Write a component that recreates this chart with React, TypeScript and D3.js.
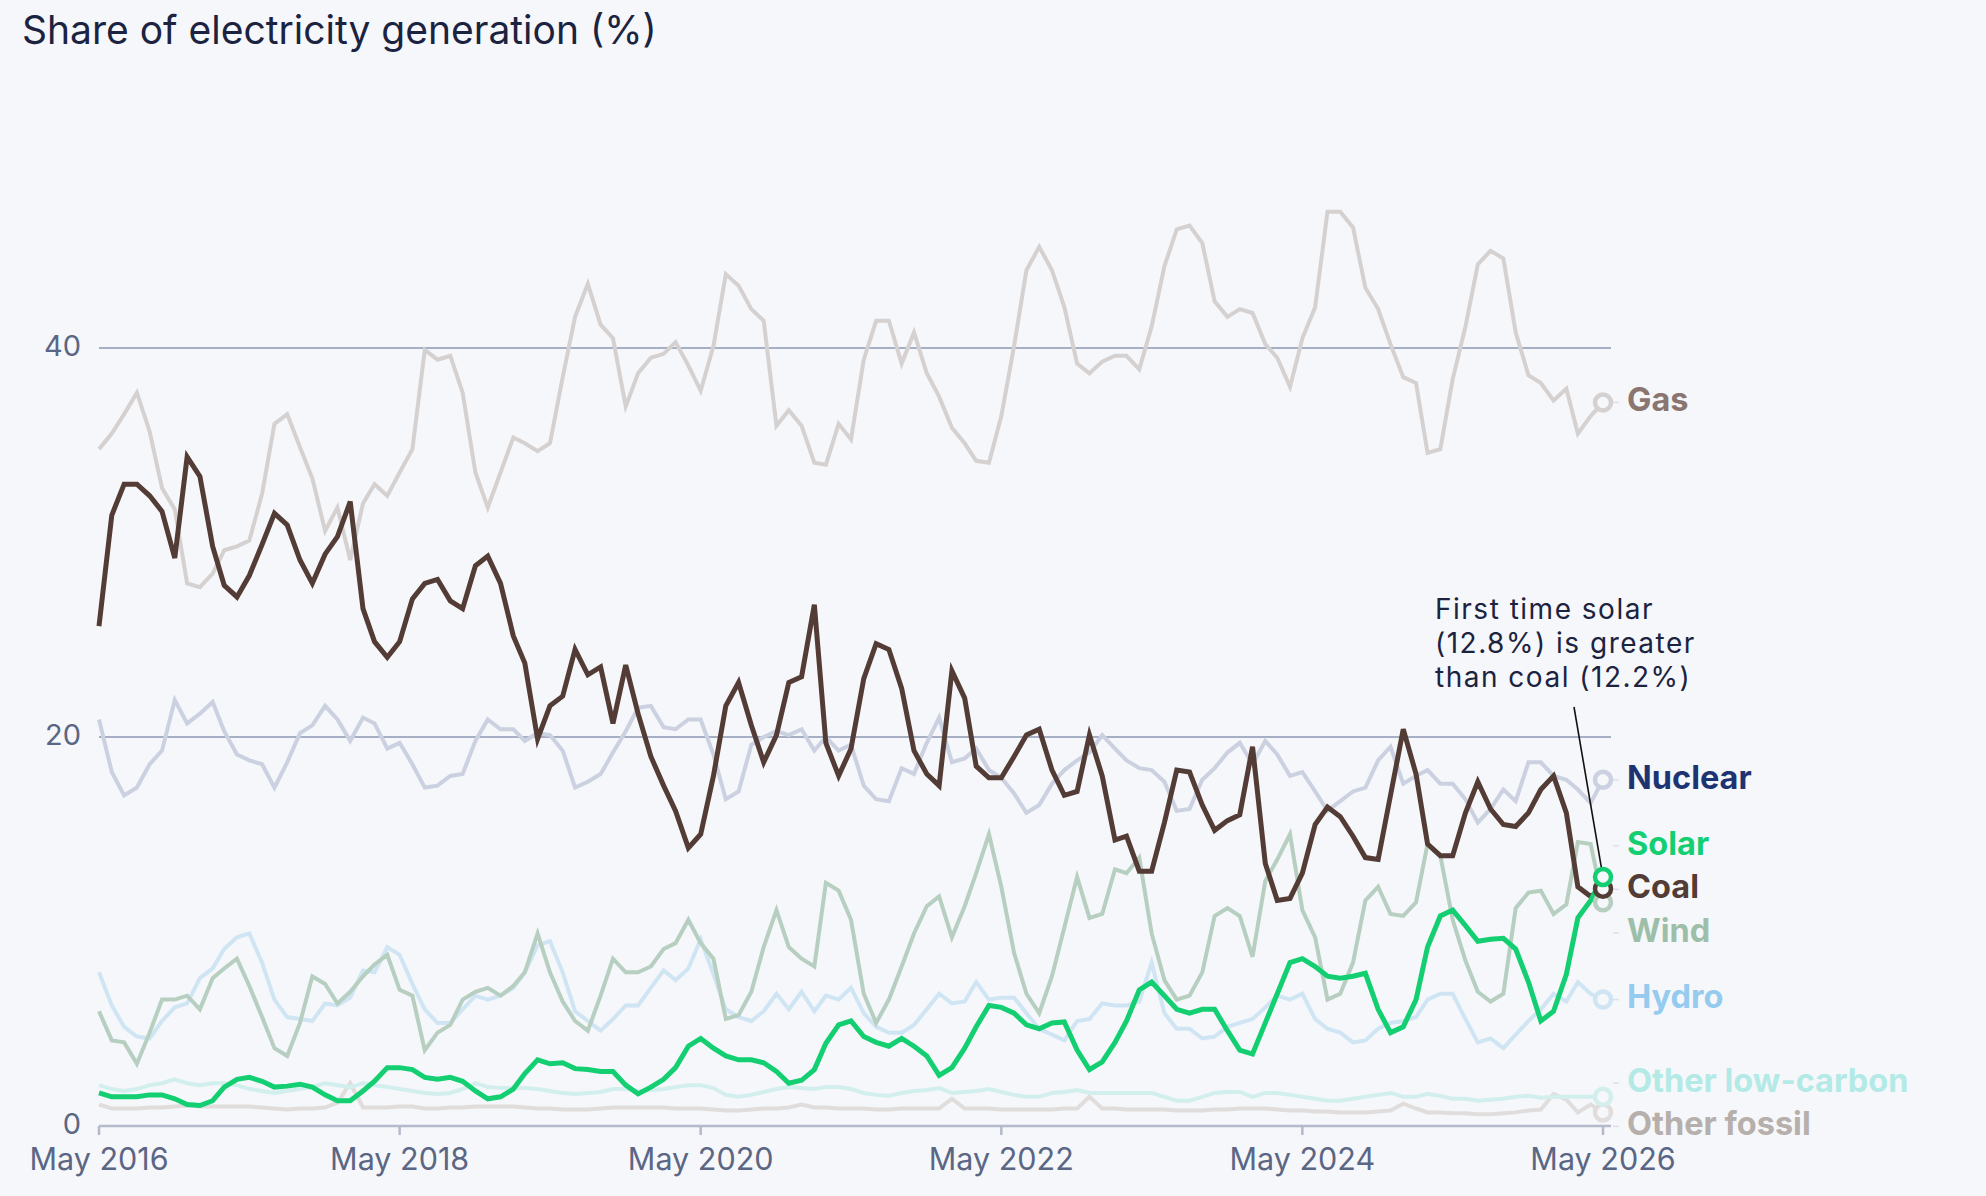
import React from "react";
import * as d3 from "d3";

// monthly shares (%), May 2016 -> May 2026
const months = d3.timeMonth.range(new Date(2016, 4, 1), new Date(2026, 5, 1));

const gas = [
  34.8, 35.6, 36.6, 37.7, 35.7, 32.8, 31.7, 27.9, 27.7, 28.4,
  29.6, 29.8, 30.1, 32.5, 36.1, 36.6, 34.9, 33.3, 30.6, 31.8,
  29.1, 32.0, 33.0, 32.4, 33.6, 34.8, 39.9, 39.4, 39.6, 37.7,
  33.6, 31.8, 33.6, 35.4, 35.1, 34.7, 35.1, 38.5, 41.6, 43.3,
  41.2, 40.5, 37.0, 38.7, 39.5, 39.7, 40.3, 39.1, 37.8, 40.1,
  43.8, 43.2, 42.0, 41.4, 36.0, 36.8, 36.0, 34.1, 34.0, 36.1,
  35.3, 39.4, 41.4, 41.4, 39.2, 40.8, 38.7, 37.5, 35.9, 35.1,
  34.2, 34.1, 36.5, 40.1, 44.0, 45.2, 44.0, 42.1, 39.2, 38.7,
  39.3, 39.6, 39.6, 38.9, 41.1, 44.2, 46.1, 46.3, 45.4, 42.4,
  41.6, 42.0, 41.8, 40.2, 39.5, 38.0, 40.5, 42.1, 47.0, 47.0,
  46.2, 43.1, 42.0, 40.2, 38.5, 38.2, 34.6, 34.8, 38.4, 41.1,
  44.3, 45.0, 44.6, 40.8, 38.6, 38.2, 37.3, 37.9, 35.6, 36.5,
  37.2,
];

const coal = [
  25.7, 31.4, 33.0, 33.0, 32.4, 31.6, 29.2, 34.4, 33.4, 29.8,
  27.8, 27.2, 28.3, 29.9, 31.5, 30.9, 29.1, 27.9, 29.4, 30.3,
  32.1, 26.6, 24.9, 24.1, 24.9, 27.1, 27.9, 28.1, 27.0, 26.6,
  28.8, 29.3, 27.9, 25.2, 23.8, 19.9, 21.6, 22.1, 24.5, 23.2,
  23.6, 20.7, 23.7, 21.2, 19.0, 17.5, 16.2, 14.3, 15.0, 18.0,
  21.6, 22.8, 20.6, 18.7, 20.1, 22.8, 23.1, 26.8, 19.7, 18.0,
  19.4, 23.0, 24.8, 24.5, 22.5, 19.3, 18.1, 17.5, 23.4, 22.0,
  18.5, 17.9, 17.9, 19.0, 20.1, 20.4, 18.3, 17.0, 17.2, 20.1,
  18.0, 14.7, 14.9, 13.1, 13.1, 15.6, 18.3, 18.2, 16.5, 15.2,
  15.7, 16.0, 19.5, 13.5, 11.6, 11.7, 13.0, 15.5, 16.4, 15.9,
  14.9, 13.8, 13.7, 17.0, 20.4, 18.1, 14.5, 13.9, 13.9, 16.1,
  17.7, 16.3, 15.5, 15.4, 16.1, 17.3, 18.0, 16.1, 12.3, 11.8,
  12.2,
];

const nuclear = [
  20.9, 18.2, 17.0, 17.4, 18.6, 19.3, 21.9, 20.7, 21.2, 21.8,
  20.3, 19.1, 18.8, 18.6, 17.4, 18.7, 20.2, 20.6, 21.6, 20.9,
  19.8, 21.0, 20.7, 19.4, 19.7, 18.6, 17.4, 17.5, 18.0, 18.1,
  19.8, 20.9, 20.4, 20.4, 19.8, 20.2, 20.1, 19.3, 17.4, 17.7,
  18.1, 19.2, 20.3, 21.5, 21.6, 20.5, 20.4, 20.9, 20.9, 19.1,
  16.8, 17.2, 19.6, 20.0, 20.3, 20.1, 20.4, 19.3, 20.0, 19.3,
  19.6, 17.5, 16.8, 16.7, 18.4, 18.1, 19.7, 21.0, 18.7, 18.9,
  19.4, 18.3, 17.9, 17.1, 16.1, 16.5, 17.6, 18.3, 18.8, 19.2,
  20.1, 19.4, 18.8, 18.4, 18.3, 17.7, 16.2, 16.3, 17.8, 18.4,
  19.2, 19.7, 18.6, 19.8, 19.1, 18.0, 18.2, 17.2, 16.2, 16.7,
  17.2, 17.4, 18.8, 19.5, 17.6, 18.0, 18.3, 17.6, 17.6, 16.8,
  15.6, 16.3, 17.3, 16.7, 18.7, 18.7, 18.0, 17.8, 17.3, 16.6,
  17.8,
];

const solar = [
  1.7, 1.5, 1.5, 1.5, 1.6, 1.6, 1.4, 1.1, 1.05, 1.3,
  2.0, 2.4, 2.5, 2.3, 2.0, 2.05, 2.15, 2.0, 1.6, 1.3,
  1.3, 1.8, 2.3, 3.0, 3.0, 2.9, 2.5, 2.4, 2.5, 2.3,
  1.8, 1.4, 1.5, 1.9, 2.7, 3.4, 3.2, 3.25, 2.95, 2.9,
  2.8, 2.8, 2.1, 1.65, 2.0, 2.4, 3.0, 4.1, 4.5, 4.0,
  3.6, 3.4, 3.4, 3.25, 2.8, 2.2, 2.35, 2.9, 4.25, 5.2,
  5.4, 4.6, 4.3, 4.1, 4.5, 4.1, 3.6, 2.6, 3.0, 4.0,
  5.1, 6.2, 6.1, 5.8, 5.2, 5.0, 5.3, 5.35, 3.9, 2.9,
  3.3, 4.3, 5.4, 7.0, 7.4, 6.7, 6.0, 5.8, 6.0, 6.0,
  4.9, 3.9, 3.7, 5.3, 6.8, 8.4, 8.6, 8.2, 7.7, 7.6,
  7.7, 7.85, 6.0, 4.8, 5.1, 6.5, 9.2, 10.8, 11.1, 10.3,
  9.5, 9.6, 9.65, 9.1, 7.4, 5.4, 5.9, 7.8, 10.7, 11.6,
  12.8,
];

const wind = [
  5.9, 4.4, 4.3, 3.2, 4.8, 6.5, 6.5, 6.7, 6.0, 7.6,
  8.1, 8.6, 7.2, 5.6, 4.0, 3.6, 5.3, 7.7, 7.3, 6.3,
  6.9, 7.7, 8.3, 8.8, 7.0, 6.7, 3.9, 4.8, 5.2, 6.5,
  6.9, 7.1, 6.7, 7.2, 7.9, 9.9, 7.9, 6.4, 5.4, 4.9,
  6.7, 8.6, 7.9, 7.9, 8.2, 9.1, 9.4, 10.6, 9.4, 8.6,
  5.5, 5.7, 6.9, 9.2, 11.1, 9.2, 8.6, 8.2, 12.5, 12.1,
  10.6, 6.8, 5.3, 6.5, 8.2, 9.9, 11.3, 11.8, 9.7, 11.3,
  13.0, 15.0, 12.3, 8.9, 6.8, 5.8, 7.7, 10.2, 12.8, 10.7,
  10.9, 13.2, 13.0, 13.8, 9.9, 7.5, 6.5, 6.7, 7.9, 10.8,
  11.2, 10.8, 8.7, 12.6, 13.7, 15.0, 11.1, 9.7, 6.5, 6.8,
  8.4, 11.6, 12.3, 10.9, 10.8, 11.5, 14.5, 13.9, 10.6, 8.5,
  6.9, 6.4, 6.8, 11.2, 12.0, 12.1, 10.9, 11.4, 14.6, 14.5,
  11.5,
];

const hydro = [
  7.9, 6.2, 5.1, 4.6, 4.5, 5.4, 6.1, 6.3, 7.6, 8.1,
  9.1, 9.7, 9.9, 8.4, 6.5, 5.6, 5.5, 5.4, 6.3, 6.2,
  6.6, 8.0, 7.9, 9.2, 8.8, 7.3, 6.0, 5.3, 5.3, 6.0,
  6.7, 6.5, 6.7, 7.1, 7.9, 9.3, 9.5, 7.9, 5.9, 5.4,
  4.9, 5.5, 6.2, 6.2, 7.1, 8.0, 7.5, 8.1, 9.6, 7.8,
  6.0, 5.6, 5.4, 5.9, 6.8, 6.0, 6.9, 5.9, 6.7, 6.5,
  7.1, 5.8, 5.1, 4.8, 4.8, 5.2, 6.0, 6.8, 6.3, 6.4,
  7.4, 6.5, 6.6, 6.6, 5.8, 5.0, 4.7, 4.4, 5.4, 5.5,
  6.3, 6.2, 6.2, 6.4, 8.4, 5.8, 5.0, 5.0, 4.5, 4.6,
  5.1, 5.3, 5.5, 6.1, 6.7, 6.5, 6.8, 5.5, 5.0, 4.8,
  4.3, 4.4, 5.0, 5.3, 5.4, 5.6, 6.5, 6.8, 6.8, 5.5,
  4.3, 4.5, 4.0, 4.7, 5.4, 6.0, 6.8, 6.4, 7.4, 6.8,
  6.5,
];

const otherLowCarbon = [
  2.1, 1.9, 1.8, 1.9, 2.1, 2.2, 2.4, 2.2, 2.1, 2.2,
  2.2, 2.1, 1.9, 1.8, 1.7, 1.8, 1.9, 2.0, 2.2, 2.1,
  2.0, 2.2, 2.1, 2.0, 1.9, 1.8, 1.7, 1.65, 1.7, 1.9,
  2.2, 2.0, 1.95, 1.95, 1.95, 1.9, 1.8, 1.7, 1.65, 1.7,
  1.75, 1.9, 1.9, 1.8, 1.85, 1.9, 2.0, 2.1, 2.1, 1.95,
  1.6, 1.5, 1.6, 1.75, 1.9, 2.0, 1.95, 1.9, 2.0, 2.0,
  1.9, 1.7, 1.6, 1.55, 1.7, 1.8, 1.85, 1.95, 1.7, 1.75,
  1.8, 1.9, 1.75, 1.6, 1.5, 1.5, 1.7, 1.75, 1.85, 1.7,
  1.7, 1.7, 1.7, 1.7, 1.7, 1.5, 1.3, 1.3, 1.5, 1.7,
  1.75, 1.75, 1.5, 1.7, 1.7, 1.6, 1.5, 1.4, 1.3, 1.3,
  1.4, 1.5, 1.6, 1.7, 1.5, 1.5, 1.65, 1.55, 1.4, 1.4,
  1.3, 1.35, 1.4, 1.5, 1.55, 1.45, 1.5, 1.5, 1.5, 1.5,
  1.5,
];

const otherFossil = [
  1.1, 0.9, 0.9, 0.9, 0.95, 0.95, 1.0, 1.05, 1.0, 1.0,
  1.0, 1.0, 1.0, 0.95, 0.9, 0.85, 0.9, 0.9, 0.95, 1.2,
  2.2, 0.95, 0.95, 0.95, 1.0, 1.0, 0.9, 0.9, 0.95, 0.95,
  1.0, 1.0, 1.0, 1.0, 0.95, 0.9, 0.9, 0.85, 0.85, 0.85,
  0.9, 0.95, 0.95, 0.95, 0.95, 0.95, 0.9, 0.9, 0.9, 0.85,
  0.8, 0.8, 0.85, 0.9, 0.9, 0.95, 1.1, 0.95, 0.95, 0.9,
  0.9, 0.9, 0.85, 0.85, 0.9, 0.9, 0.9, 0.9, 1.4, 0.9,
  0.9, 0.9, 0.85, 0.85, 0.85, 0.85, 0.85, 0.9, 0.9, 1.5,
  0.9, 0.9, 0.85, 0.85, 0.85, 0.85, 0.8, 0.8, 0.8, 0.85,
  0.85, 0.9, 0.9, 0.9, 0.85, 0.8, 0.8, 0.75, 0.75, 0.7,
  0.7, 0.7, 0.75, 0.8, 1.15, 0.9, 0.7, 0.7, 0.65, 0.65,
  0.6, 0.6, 0.65, 0.7, 0.8, 0.85, 1.65, 1.35, 0.7, 1.1,
  0.7,
];

const yTicks = [0, 20, 40];
const annotationLines = ["First time solar", "(12.8%) is greater", "than coal (12.2%)"];

// draw order: faint lines first, highlighted ones on top
const series = [
  { key: "Other fossil", values: otherFossil, line: "#e0dddc", label: "#b6afac", width: 4 },
  { key: "Other low-carbon", values: otherLowCarbon, line: "#d2efee", label: "#b3eae6", width: 4 },
  { key: "Hydro", values: hydro, line: "#d0e5f4", label: "#95cbef", width: 4 },
  { key: "Wind", values: wind, line: "#b7cfc1", label: "#9dbfaa", width: 4 },
  { key: "Nuclear", values: nuclear, line: "#cbd1e0", label: "#1e3472", width: 4 },
  { key: "Gas", values: gas, line: "#d6d1d1", label: "#8a7570", width: 4 },
  { key: "Coal", values: coal, line: "#533c35", label: "#533c35", width: 5 },
  { key: "Solar", values: solar, line: "#14cf72", label: "#14cf72", width: 5 },
];

const W = 1986;
const H = 1196;
const BG = "#f5f7fa";
const FONT = "Inter, 'Noto Sans', sans-serif";

const x = d3
  .scaleTime()
  .domain([months[0], months[months.length - 1]])
  .range([99, 1603]);
const y = d3.scaleLinear().domain([0, 40]).range([1126, 348]);

const xTicks = months.filter((d) => d.getMonth() === 4 && d.getFullYear() % 2 === 0);
const fmt = d3.timeFormat("%b %Y");

// spread end labels so they don't collide
function layoutLabels(items: { key: string; y: number }[], gap: number) {
  const sorted = [...items].sort((a, b) => a.y - b.y);
  const groups = sorted.map((d) => ({ members: [d], mean: d.y }));
  let merged = true;
  while (merged) {
    merged = false;
    for (let i = 0; i < groups.length - 1; i++) {
      const a = groups[i];
      const b = groups[i + 1];
      const aBottom = a.mean + ((a.members.length - 1) * gap) / 2;
      const bTop = b.mean - ((b.members.length - 1) * gap) / 2;
      if (bTop - aBottom < gap) {
        const members = [...a.members, ...b.members];
        groups.splice(i, 2, { members, mean: d3.mean(members, (m) => m.y) as number });
        merged = true;
        break;
      }
    }
  }
  const out = new Map<string, number>();
  groups.forEach((g) =>
    g.members.forEach((m, k) => out.set(m.key, g.mean + (k - (g.members.length - 1) / 2) * gap))
  );
  return out;
}

export default function App() {
  const line = d3
    .line<number>()
    .x((_, i) => x(months[i]))
    .y((d) => y(d));

  const last = months.length - 1;
  const xEnd = x(months[last]);
  const labelY = layoutLabels(
    series.map((s) => ({ key: s.key, y: y(s.values[last]) })),
    43.5
  );
  const solarEnd = y(solar[last]);

  return (
    <svg
      width={W}
      height={H}
      style={{ position: "absolute", left: 0, top: 0, display: "block" }}
      fontFamily={FONT}
    >
      <rect width={W} height={H} fill={BG} />
      <text x={22} y={44} fontSize={39} fill="#1c2340">
        Share of electricity generation (%)
      </text>

      {/* grid + y labels */}
      {yTicks.map((t) => (
        <g key={t}>
          {t > 0 && (
            <line x1={99} x2={1611} y1={y(t)} y2={y(t)} stroke="#a7afc4" strokeWidth={2} />
          )}
          <text
            x={81}
            y={y(t)}
            textAnchor="end"
            dominantBaseline="middle"
            fontSize={29}
            fill="#5b6685"
          >
            {t}
          </text>
        </g>
      ))}

      {/* x axis */}
      <line x1={99} x2={1611} y1={y(0)} y2={y(0)} stroke="#b4bacb" strokeWidth={2.5} />
      {xTicks.map((d) => (
        <g key={+d}>
          <line x1={x(d)} x2={x(d)} y1={y(0)} y2={y(0) + 9} stroke="#b4bacb" strokeWidth={2.5} />
          <text x={x(d)} y={1170} textAnchor="middle" fontSize={30.5} fill="#5b6685">
            {fmt(d)}
          </text>
        </g>
      ))}

      {/* series */}
      {series.map((s) => (
        <path
          key={s.key}
          d={line(s.values) || ""}
          fill="none"
          stroke={s.line}
          strokeWidth={s.width}
          strokeLinejoin="miter"
        />
      ))}

      {/* annotation */}
      <line x1={xEnd - 29} y1={707} x2={xEnd} y2={solarEnd} stroke="#111" strokeWidth={1.6} />
      {annotationLines.map((t, i) => (
        <text
          key={i}
          x={xEnd - 168}
          y={619 + i * 34}
          fontSize={28}
          letterSpacing={1.5}
          fill="#1c2340"
        >
          {t}
        </text>
      ))}

      {/* end markers + labels */}
      {series.map((s) => {
        const ly = labelY.get(s.key) as number;
        return (
          <g key={s.key}>
            <line x1={xEnd + 10} x2={xEnd + 16} y1={ly} y2={ly} stroke="#dde0e8" strokeWidth={1.5} />
            <circle
              cx={xEnd}
              cy={y(s.values[last])}
              r={8}
              fill={BG}
              stroke={s.line}
              strokeWidth={4.5}
            />
            <text
              x={xEnd + 24}
              y={ly}
              dominantBaseline="middle"
              fontSize={32.5}
              fontWeight={700}
              fill={s.label}
            >
              {s.key}
            </text>
          </g>
        );
      })}
    </svg>
  );
}
